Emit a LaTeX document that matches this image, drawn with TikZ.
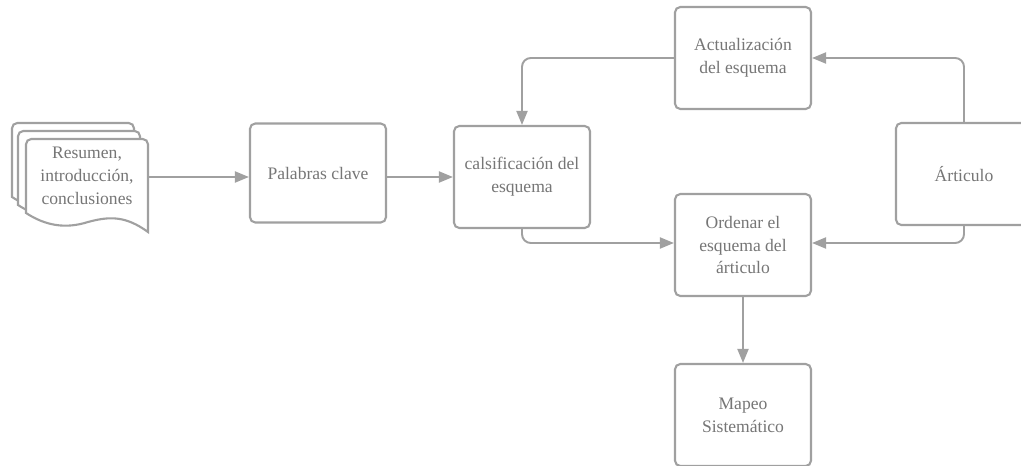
\documentclass[tikz,border=0pt]{standalone}
\usepackage{fontspec}
\setmainfont{Liberation Serif}
\usetikzlibrary{arrows.meta}

\definecolor{linegray}{RGB}{160,160,160}
\definecolor{textgray}{RGB}{118,118,118}

% one sheet of the document stack, #1/#2 = top left corner
\newcommand{\docsheet}[2]{%
  \filldraw[sheet] (#1,#2+74) [rounded corners=3pt] -- (#1,#2) -- (#1+122,#2) [sharp corners] -- (#1+122,#2+93)
    .. controls (#1+100,#2+77) and (#1+84,#2+77) .. (#1+62,#2+83)
    .. controls (#1+40,#2+90) and (#1+20,#2+87) .. (#1,#2+74) -- cycle;}

\begin{document}
\begin{tikzpicture}[x=0.02cm,y=-0.02cm,
    font=\fontsize{10}{13}\selectfont,
    sheet/.style={draw=linegray,fill=white,line width=1.2pt},
    box/.style={draw=linegray,fill=white,line width=1.2pt,rounded corners=3pt,
      minimum width=2.72cm,minimum height=2.04cm,align=center,text=textgray},
    link/.style={draw=linegray,line width=1.1pt,rounded corners=5pt,
      -{Triangle[length=0.28cm,width=0.22cm]}}]
      \useasboundingbox (0,0) rectangle (1021,466);
      \foreach \dx/\dy in {12/123,18/131,26/139} {\docsheet{\dx}{\dy}}
      \node[align=center,text=textgray,minimum width=2.44cm] (resumen) at (87,176) {Resumen,\\introducción,\\conclusiones};
      \node[box,minimum height=1.98cm] (palabras) at (318,173) {Palabras clave};
      \node[box] (esquema) at (522,177) {calsificación del\\esquema};
      \node[box] (actualizacion) at (743,58) {Actualización\\del esquema};
      \node[box] (articulo) at (964,174) {Árticulo};
      \node[box] (ordenar) at (743,245) {Ordenar el\\esquema del\\árticulo};
      \node[box] (mapeo) at (743,415) {Mapeo\\Sistemático};
      \draw[link] (resumen.east |- 0,177) -- (palabras.west |- 0,177);
      \draw[link] (palabras.east |- 0,177) -- (esquema.west |- 0,177);
      \draw[link] (actualizacion.west) -| (esquema.north);
      \draw[link] (articulo.north) |- (actualizacion.east);
      \draw[link] (esquema.south) |- (ordenar.west |- 0,243);
      \draw[link] (articulo.south) |- (ordenar.east |- 0,243);
      \draw[link] (ordenar.south) -- (mapeo.north);
    \end{tikzpicture}
\end{document}
